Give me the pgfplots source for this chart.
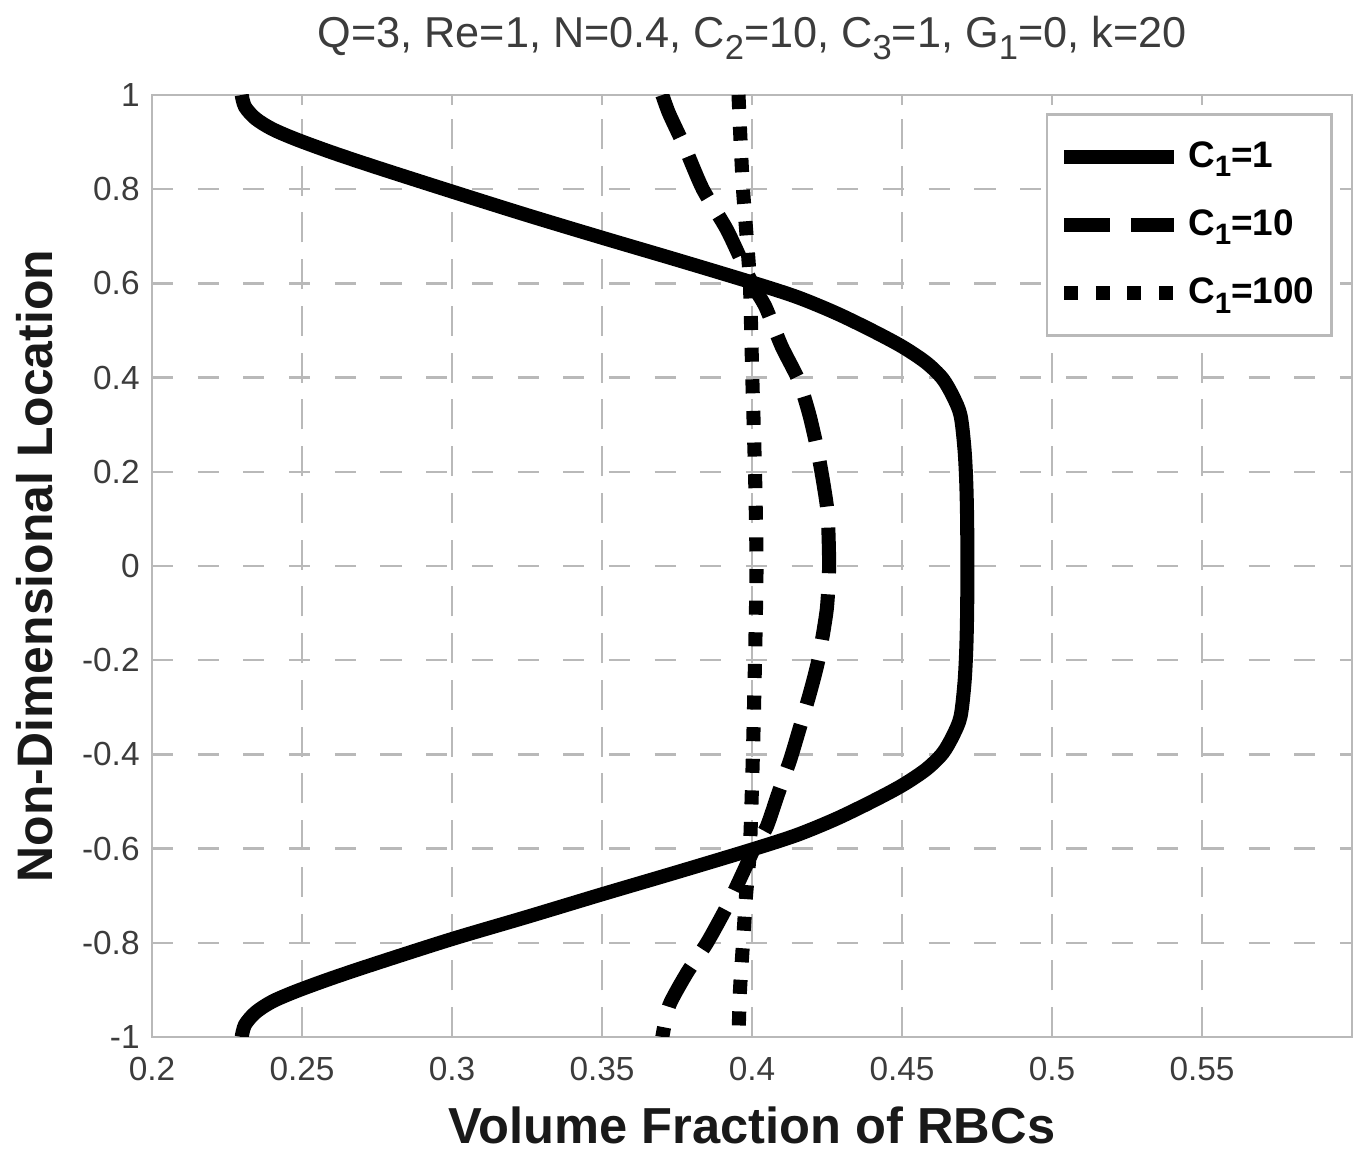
\documentclass[border=0pt]{standalone}
\usepackage{fontspec}
\setmainfont{Liberation Sans}
\usepackage{pgfplots}
\pgfplotsset{compat=1.18}

\definecolor{framegray}{RGB}{185,185,185}
\definecolor{gridgray}{RGB}{185,185,185}
\definecolor{labgray}{RGB}{60,60,60}

\newcommand{\sbs}[1]{\raisebox{-0.5ex}{\scalebox{0.8}{#1}}}

\begin{document}
\begin{tikzpicture}
\begin{axis}[
    name=ax,
    scale only axis,
    width=12cm, height=9.42cm,
    xmin=0.2, xmax=0.6,
    ymin=-1, ymax=1,
    xtick={0.2,0.25,0.3,0.35,0.4,0.45,0.5,0.55},
    ytick={-1,-0.8,-0.6,-0.4,-0.2,0,0.2,0.4,0.6,0.8,1},
    /pgf/number format/.cd, fixed, precision=2, assume math mode=true,
    /pgfplots/.cd,
    tick align=inside,
    major tick length=0.1cm,
    tick style={framegray, line width=0.6pt},
    axis line style={framegray, line width=0.8pt},
    grid=major,
    x grid style={gridgray, line width=0.7pt, dash pattern=on 8.5pt off 4.8pt},
    y grid style={gridgray, line width=0.7pt, dash pattern=on 6pt off 7pt},
    ticklabel style={font=\fontsize{9.5}{11}\selectfont, text=labgray},
    xticklabel style={yshift=-0.08cm},
    every axis title shift=0pt,
    title={Q=3, Re=1, N=0.4, C\sbs{2}=10, C\sbs{3}=1, G\sbs{1}=0, k=20},
    title style={at={(axis description cs:0.5,1.05)}, anchor=base,
        font=\fontsize{12.3}{14}\selectfont, text=labgray},
    xlabel={Volume Fraction of RBCs},
    xlabel style={at={(axis description cs:0.5,-0.0934)}, anchor=center,
        font=\bfseries\fontsize{14.4}{16}\selectfont, text=black!90},
    ylabel={Non-Dimensional Location},
    ylabel style={at={(axis description cs:-0.0975,0.5)}, anchor=center,
        font=\bfseries\fontsize{14.2}{16}\selectfont, text=black!90},
    legend style={at={(axis description cs:0.984,0.981)}, anchor=north east,
        draw=framegray, line width=0.8pt, fill=white,
        font=\bfseries\fontsize{10.5}{12}\selectfont,
        row sep=0.23cm, inner xsep=0.1cm, inner ysep=0.2cm},
    legend cell align=left,
    legend image code/.code={\draw[#1] (0cm,0cm) -- (1.1cm,0cm);},
]

% C1 = 1
\addplot[black, line width=4pt, smooth, tension=0.5] coordinates {
    (0.2299,1.000) (0.2310,0.975) (0.2345,0.950) (0.2400,0.928)
    (0.2480,0.906) (0.2600,0.878) (0.2750,0.846) (0.3000,0.795)
    (0.3250,0.745) (0.3500,0.697) (0.3750,0.650) (0.4000,0.602)
    (0.4150,0.571) (0.4280,0.537) (0.4400,0.500) (0.4500,0.466)
    (0.4580,0.432) (0.4635,0.398) (0.4670,0.360) (0.4695,0.320)
    (0.4708,0.250) (0.4714,0.180) (0.4717,0.100) (0.4718,0.000)
    (0.4717,-0.100) (0.4714,-0.180) (0.4708,-0.250) (0.4695,-0.320)
    (0.4670,-0.360) (0.4635,-0.398) (0.4580,-0.432) (0.4500,-0.466)
    (0.4400,-0.500) (0.4280,-0.537) (0.4150,-0.571) (0.4000,-0.602)
    (0.3750,-0.650) (0.3500,-0.697) (0.3250,-0.745) (0.3000,-0.792)
    (0.2750,-0.843) (0.2600,-0.875) (0.2480,-0.903) (0.2400,-0.925)
    (0.2345,-0.948) (0.2310,-0.974) (0.2299,-1.000)
};
\addlegendentry{C\sbs{1}=1}

% C1 = 10
\addplot[black, line width=4pt, dash pattern=on 13pt off 6pt, smooth, tension=0.4] coordinates {
    (0.3701,1.000) (0.3724,0.960) (0.3776,0.889) (0.3836,0.800)
    (0.3918,0.712) (0.4000,0.600) (0.4045,0.550) (0.4099,0.466)
    (0.4155,0.395) (0.4190,0.324) (0.4216,0.253) (0.4236,0.183)
    (0.4252,0.112) (0.4257,0.000) (0.4249,-0.093) (0.4221,-0.200)
    (0.4193,-0.270) (0.4160,-0.342) (0.4127,-0.412) (0.4088,-0.482)
    (0.4049,-0.554) (0.4007,-0.600) (0.3970,-0.651) (0.3918,-0.721)
    (0.3850,-0.800) (0.3784,-0.863) (0.3724,-0.933) (0.3701,-1.000)
};
\addlegendentry{C\sbs{1}=10}

% C1 = 100
\addplot[black, line width=4pt, dash pattern=on 4pt off 5pt, smooth, tension=0.4] coordinates {
    (0.3955,1.000) (0.3962,0.900) (0.3970,0.800) (0.3982,0.700)
    (0.3993,0.600) (0.4001,0.400) (0.4010,0.200) (0.4015,0.000)
    (0.4010,-0.200) (0.4003,-0.400) (0.3993,-0.600) (0.3980,-0.700)
    (0.3970,-0.800) (0.3960,-0.900) (0.3955,-1.000)
};
\addlegendentry{C\sbs{1}=100}

\end{axis}
\pgfresetboundingbox
\path[use as bounding box] (ax.south west) ++(-1.52cm,-1.13cm) rectangle ++(13.58cm,11.5cm);
\end{tikzpicture}
\end{document}
